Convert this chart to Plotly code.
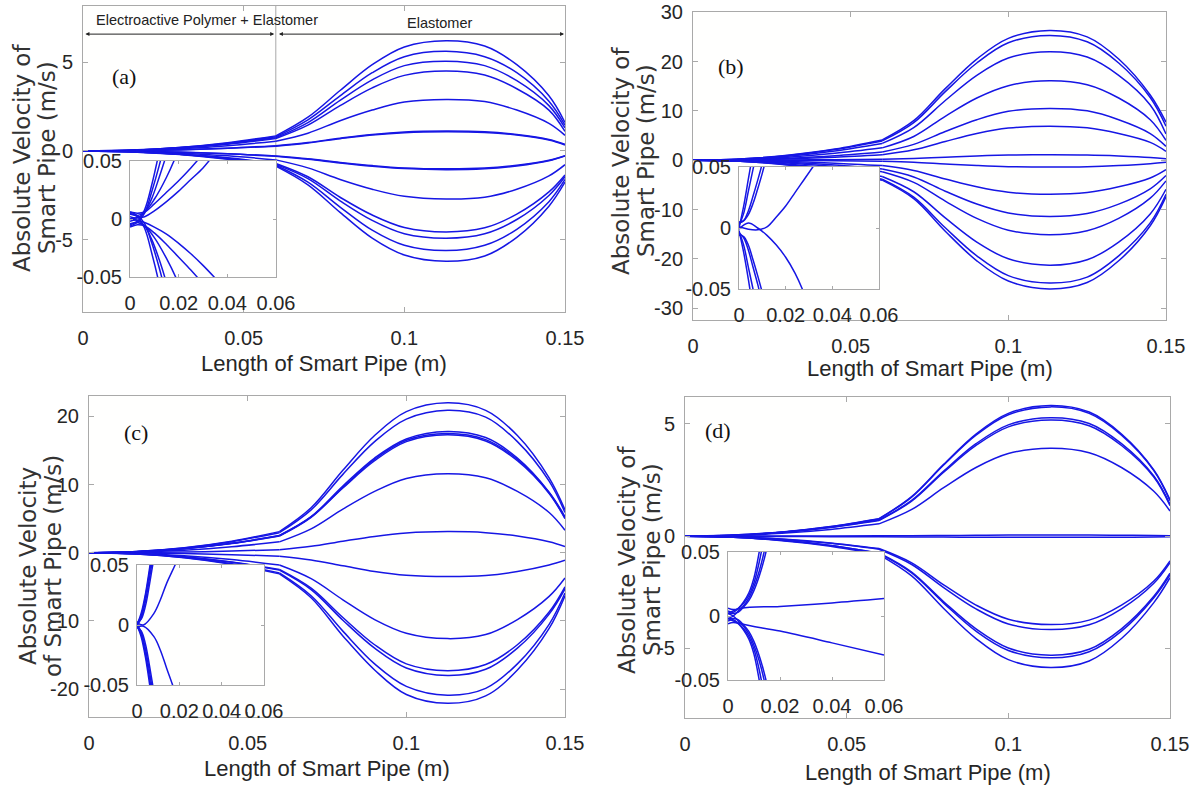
import plotly.graph_objects as go

W, H = 1198, 789

# ---------------- data ----------------
X_EAP = [0, 0.015, 0.03, 0.045, 0.06]
X_ELA = [0.06, 0.07, 0.08, 0.09, 0.10, 0.113, 0.125, 0.135, 0.145, 0.15]
X_TICKS = [0, 0.05, 0.1, 0.15]
X_TICK_TEXT = ["0", "0.05", "0.1", "0.15"]
IN_X_TICKS = [0, 0.02, 0.04, 0.06]
IN_X_TICK_TEXT = ["0", "0.02", "0.04", "0.06"]
IN_Y_TICKS = [-0.05, 0, 0.05]
IN_Y_TICK_TEXT = ["-0.05", "0", "0.05"]
A_Y_TICKS, A_Y_TEXT = [-5, 0, 5], ["-5", "0", "5"]
B_Y_TICKS, B_Y_TEXT = [-30, -20, -10, 0, 10, 20, 30], ["-30", "-20", "-10", "0", "10", "20", "30"]
C_Y_TICKS, C_Y_TEXT = [-20, -10, 0, 10, 20], ["-20", "-10", "0", "10", "20"]
D_Y_TICKS, D_Y_TEXT = [-5, 0, 5], ["-5", "0", "5"]

# panel (a)
A_EAP = [
    [0, 0.05, 0.20, 0.47, 0.85], [0, 0.05, 0.19, 0.44, 0.80], [0, 0.04, 0.18, 0.41, 0.75],
    [0, 0.04, 0.17, 0.38, 0.70], [0, 0.03, 0.13, 0.30, 0.55], [0, 0.02, 0.07, 0.16, 0.30],
    [0, 0.02, 0.06, 0.15, 0.27], [0, -0.02, -0.06, -0.15, -0.28], [0, -0.02, -0.07, -0.16, -0.30],
    [0, -0.03, -0.12, -0.27, -0.50], [0, -0.04, -0.17, -0.38, -0.70], [0, -0.04, -0.18, -0.41, -0.75],
    [0, -0.05, -0.19, -0.44, -0.80], [0, -0.05, -0.20, -0.47, -0.85],
]
A_ELA = [
    [0.85, 1.9, 3.4, 4.85, 5.85, 6.2, 5.9, 4.85, 3.1, 1.6],
    [0.80, 1.75, 3.1, 4.4, 5.3, 5.6, 5.3, 4.4, 2.8, 1.45],
    [0.75, 1.6, 2.85, 4.0, 4.8, 5.05, 4.8, 3.95, 2.55, 1.3],
    [0.70, 1.45, 2.55, 3.55, 4.25, 4.5, 4.27, 3.5, 2.3, 1.1],
    [0.55, 1.0, 1.7, 2.3, 2.75, 2.9, 2.78, 2.3, 1.55, 0.88],
    [0.30, 0.48, 0.72, 0.93, 1.07, 1.12, 1.08, 0.93, 0.65, 0.37],
    [0.27, 0.45, 0.69, 0.90, 1.03, 1.08, 1.04, 0.90, 0.62, 0.34],
    [-0.28, -0.44, -0.64, -0.82, -0.95, -1.0, -0.96, -0.8, -0.52, -0.26],
    [-0.30, -0.47, -0.68, -0.86, -0.99, -1.05, -1.0, -0.84, -0.55, -0.28],
    [-0.50, -0.95, -1.6, -2.15, -2.55, -2.7, -2.6, -2.15, -1.4, -0.77],
    [-0.70, -1.45, -2.6, -3.6, -4.3, -4.55, -4.32, -3.55, -2.3, -1.35],
    [-0.75, -1.55, -2.8, -3.9, -4.65, -4.9, -4.65, -3.85, -2.5, -1.45],
    [-0.80, -1.75, -3.15, -4.45, -5.3, -5.6, -5.3, -4.4, -2.85, -1.6],
    [-0.85, -1.9, -3.45, -4.9, -5.85, -6.2, -5.9, -4.85, -3.1, -1.75],
]
A_IN_X1 = [0, 0.003, 0.006, 0.009, 0.012, 0.016]
A_IN_Y1 = [
    [-0.004, -0.002, 0.008, 0.030, 0.058, 0.10],
    [-0.006, -0.003, 0.005, 0.024, 0.046, 0.08],
    [0.002, 0.001, 0.006, 0.018, 0.036, 0.062],
    [0.004, 0.002, -0.008, -0.030, -0.056, -0.10],
    [0.006, 0.003, -0.004, -0.021, -0.042, -0.075],
    [-0.002, -0.001, -0.006, -0.018, -0.035, -0.062],
]
A_IN_X2 = [0, 0.003, 0.006, 0.01, 0.015, 0.02, 0.025, 0.03, 0.035]
A_IN_Y2 = [
    [0.005, 0.003, 0.006, 0.017, 0.036, 0.060, 0.090, 0.120, 0.150],
    [0.006, 0.005, 0.006, 0.013, 0.023, 0.033, 0.044, 0.056, 0.068],
    [0.0, 0.001, 0.002, 0.007, 0.015, 0.024, 0.034, 0.044, 0.057],
    [-0.005, -0.003, -0.006, -0.016, -0.034, -0.056, -0.085, -0.115, -0.150],
    [-0.007, -0.005, -0.006, -0.012, -0.022, -0.033, -0.044, -0.056, -0.070],
    [0.0, -0.001, -0.003, -0.007, -0.013, -0.021, -0.030, -0.040, -0.051],
]

# panel (b)
B_EAP = [
    [0, 0.25, 1.0, 2.25, 4.1], [0, 0.23, 0.94, 2.15, 3.9], [0, 0.2, 0.82, 1.87, 3.4],
    [0, 0.15, 0.6, 1.38, 2.5], [0, 0.1, 0.4, 0.9, 1.65], [0, 0.07, 0.26, 0.6, 1.1],
    [0, 0.01, 0.04, 0.09, 0.17], [0, -0.01, -0.05, -0.12, -0.22], [0, -0.07, -0.26, -0.6, -1.1],
    [0, -0.11, -0.43, -0.99, -1.8], [0, -0.14, -0.56, -1.29, -2.35], [0, -0.2, -0.79, -1.82, -3.3],
    [0, -0.23, -0.92, -2.12, -3.85], [0, -0.24, -0.97, -2.23, -4.05],
]
B_ELA = [
    [4.1, 8.0, 14.5, 20.5, 24.7, 26.3, 25.0, 20.5, 13.2, 7.7],
    [3.9, 7.6, 13.9, 19.7, 23.8, 25.3, 24.0, 19.7, 12.7, 6.9],
    [3.4, 6.6, 12.1, 17.2, 20.7, 22.0, 20.9, 17.2, 11.2, 5.3],
    [2.5, 4.8, 8.9, 12.6, 15.1, 16.1, 15.3, 12.6, 8.2, 4.0],
    [1.65, 3.2, 5.8, 8.2, 9.9, 10.5, 10.0, 8.2, 5.4, 2.8],
    [1.1, 2.1, 3.8, 5.4, 6.5, 6.9, 6.55, 5.4, 3.6, 1.8],
    [0.17, 0.35, 0.6, 0.86, 1.03, 1.1, 1.05, 0.86, 0.56, 0.3],
    [-0.22, -0.42, -0.77, -1.09, -1.32, -1.4, -1.33, -1.09, -0.7, -0.4],
    [-1.1, -2.1, -3.8, -5.4, -6.5, -6.9, -6.55, -5.4, -3.6, -1.9],
    [-1.8, -3.4, -6.3, -8.9, -10.7, -11.4, -10.8, -8.9, -5.8, -3.1],
    [-2.35, -4.5, -8.3, -11.8, -14.2, -15.1, -14.3, -11.8, -7.7, -4.2],
    [-3.3, -6.4, -11.7, -16.6, -20.0, -21.3, -20.2, -16.6, -10.9, -5.9],
    [-3.85, -7.5, -13.7, -19.4, -23.4, -24.9, -23.7, -19.4, -12.7, -6.9],
    [-4.05, -7.8, -14.4, -20.4, -24.5, -26.1, -24.8, -20.4, -13.3, -7.4],
]
B_IN_X1 = [0, 0.002, 0.004, 0.006, 0.008, 0.01, 0.012]
B_IN_Y1 = [
    [0.0, 0.018, 0.040, 0.062, 0.085, 0.110, 0.130],
    [0.002, 0.012, 0.030, 0.048, 0.066, 0.085, 0.100],
    [0.004, 0.006, 0.014, 0.026, 0.039, 0.053, 0.068],
    [0.005, 0.006, 0.011, 0.020, 0.032, 0.045, 0.060],
    [-0.002, -0.020, -0.042, -0.066, -0.090, -0.110, -0.130],
    [-0.003, -0.014, -0.032, -0.050, -0.068, -0.087, -0.105],
    [-0.004, -0.008, -0.018, -0.032, -0.046, -0.062, -0.078],
    [-0.006, -0.007, -0.014, -0.026, -0.039, -0.053, -0.068],
]
B_IN_X2 = [0, 0.004, 0.008, 0.012, 0.016, 0.02, 0.024, 0.028, 0.032]
B_IN_Y2 = [
    [0.001, -0.001, -0.0015, 0.001, 0.009, 0.018, 0.029, 0.040, 0.051],
    [-0.001, 0.004, 0.0, -0.006, -0.014, -0.024, -0.037, -0.054, -0.075],
]

# panel (c)
C_EAP = [
    [0, 0.19, 0.74, 1.7, 3.1], [0, 0.18, 0.71, 1.62, 2.95], [0, 0.15, 0.61, 1.4, 2.55],
    [0, 0.15, 0.6, 1.38, 2.5], [0, 0.15, 0.59, 1.35, 2.45], [0, 0.1, 0.38, 0.88, 1.6],
    [0, 0.03, 0.11, 0.25, 0.45], [0, -0.03, -0.12, -0.28, -0.5], [0, -0.11, -0.43, -0.99, -1.8],
    [0, -0.15, -0.59, -1.35, -2.45], [0, -0.15, -0.61, -1.4, -2.55], [0, -0.18, -0.71, -1.62, -2.95],
    [0, -0.19, -0.74, -1.7, -3.1],
]
C_ELA = [
    [3.1, 6.6, 12.1, 17.2, 20.7, 22.0, 20.9, 17.2, 11.0, 6.3],
    [2.95, 6.3, 11.5, 16.3, 19.6, 20.9, 19.9, 16.3, 10.5, 5.9],
    [2.55, 5.3, 9.8, 13.9, 16.7, 17.8, 16.9, 13.9, 8.9, 5.3],
    [2.5, 5.25, 9.6, 13.7, 16.5, 17.5, 16.6, 13.7, 8.8, 5.1],
    [2.45, 5.2, 9.5, 13.5, 16.3, 17.3, 16.4, 13.5, 8.7, 5.0],
    [1.6, 3.5, 6.4, 9.0, 10.9, 11.6, 11.0, 9.0, 5.9, 3.3],
    [0.45, 0.95, 1.7, 2.4, 2.9, 3.1, 2.95, 2.45, 1.6, 0.9],
    [-0.5, -1.05, -1.9, -2.75, -3.3, -3.5, -3.33, -2.75, -1.8, -1.1],
    [-1.8, -3.8, -6.9, -9.8, -11.8, -12.6, -12.0, -9.8, -6.4, -3.7],
    [-2.45, -5.2, -9.5, -13.5, -16.3, -17.3, -16.4, -13.5, -8.7, -5.0],
    [-2.55, -5.4, -9.9, -14.0, -16.9, -18.0, -17.1, -14.0, -9.0, -5.3],
    [-2.95, -6.3, -11.5, -16.3, -19.6, -20.9, -19.9, -16.3, -10.5, -5.9],
    [-3.1, -6.6, -12.2, -17.2, -20.8, -22.1, -21.0, -17.2, -11.1, -6.3],
]
C_IN_X1 = [0, 0.002, 0.004, 0.006, 0.008, 0.01]
C_IN_Y1 = [
    [0.0, 0.010, 0.026, 0.048, 0.072, 0.100],
    [0.001, 0.008, 0.024, 0.045, 0.068, 0.094],
    [-0.001, 0.006, 0.020, 0.040, 0.062, 0.086],
    [0.002, 0.005, 0.016, 0.035, 0.056, 0.079],
    [0.0, -0.010, -0.027, -0.050, -0.075, -0.100],
    [-0.001, -0.008, -0.024, -0.045, -0.068, -0.094],
    [0.001, -0.006, -0.020, -0.040, -0.062, -0.086],
    [-0.002, -0.005, -0.016, -0.035, -0.056, -0.079],
]
C_IN_X2 = [0, 0.003, 0.008, 0.011, 0.014, 0.018, 0.022]
C_IN_Y2 = [
    [0.002, 0.0, 0.0097, 0.0208, 0.0347, 0.050, 0.066],
    [-0.002, -0.001, -0.0097, -0.0208, -0.036, -0.056, -0.078],
]

# panel (d)
D_EAP = [
    [0, 0.05, 0.19, 0.43, 0.78], [0, 0.05, 0.18, 0.42, 0.77], [0, 0.04, 0.17, 0.40, 0.72],
    [0, 0.04, 0.17, 0.39, 0.70], [0, 0.03, 0.13, 0.30, 0.55], [0, 0.004, 0.006, 0.010, 0.014],
    [0, -0.006, -0.012, -0.021, -0.030], [0, -0.03, -0.13, -0.30, -0.55], [0, -0.03, -0.14, -0.32, -0.58],
    [0, -0.05, -0.18, -0.41, -0.75], [0, -0.05, -0.18, -0.42, -0.77], [0, -0.05, -0.20, -0.45, -0.82],
]
D_ELA = [
    [0.78, 1.75, 3.2, 4.55, 5.47, 5.82, 5.53, 4.55, 2.95, 1.62],
    [0.77, 1.73, 3.17, 4.5, 5.41, 5.76, 5.47, 4.5, 2.92, 1.58],
    [0.72, 1.58, 2.9, 4.12, 4.96, 5.28, 5.02, 4.12, 2.68, 1.42],
    [0.70, 1.55, 2.85, 4.04, 4.87, 5.18, 4.92, 4.04, 2.63, 1.36],
    [0.55, 1.18, 2.16, 3.06, 3.68, 3.92, 3.72, 3.06, 2.0, 1.12],
    [0.014, 0.02, 0.03, 0.04, 0.047, 0.05, 0.048, 0.04, 0.03, 0.02],
    [-0.03, -0.035, -0.04, -0.045, -0.049, -0.05, -0.049, -0.045, -0.038, -0.03],
    [-0.55, -1.18, -2.17, -3.07, -3.7, -3.94, -3.74, -3.07, -2.0, -1.1],
    [-0.58, -1.25, -2.29, -3.24, -3.91, -4.16, -3.95, -3.24, -2.1, -1.18],
    [-0.75, -1.59, -2.92, -4.13, -4.98, -5.3, -5.04, -4.13, -2.68, -1.65],
    [-0.77, -1.63, -2.98, -4.23, -5.09, -5.42, -5.15, -4.23, -2.74, -1.72],
    [-0.82, -1.76, -3.22, -4.56, -5.5, -5.85, -5.56, -4.56, -2.96, -1.85],
]
D_IN_X1 = [0, 0.002, 0.004, 0.006, 0.008, 0.01, 0.012, 0.014, 0.016, 0.018]
D_IN_Y1 = [
    [0.004, 0.003, 0.006, 0.011, 0.018, 0.030, 0.050, 0.075, 0.100, 0.130],
    [0.006, 0.005, 0.006, 0.010, 0.016, 0.026, 0.042, 0.063, 0.088, 0.115],
    [-0.002, 0.0, 0.004, 0.008, 0.014, 0.023, 0.035, 0.051, 0.072, 0.096],
    [0.002, 0.002, 0.003, 0.007, 0.012, 0.020, 0.031, 0.045, 0.063, 0.085],
    [-0.004, -0.003, -0.006, -0.011, -0.018, -0.030, -0.050, -0.075, -0.100, -0.130],
    [-0.006, -0.005, -0.006, -0.010, -0.016, -0.026, -0.042, -0.063, -0.088, -0.115],
    [0.002, 0.0, -0.004, -0.008, -0.014, -0.023, -0.035, -0.051, -0.072, -0.096],
    [-0.002, -0.002, -0.003, -0.007, -0.012, -0.020, -0.031, -0.045, -0.063, -0.085],
]
D_IN_X2 = [0, 0.005, 0.02, 0.04, 0.06]
D_IN_Y2 = [
    [0.002, 0.006, 0.0075, 0.0102, 0.0136],
    [-0.002, -0.006, -0.0118, -0.021, -0.0305],
]

# ---------------- styling / layout ----------------
BLUE = "rgb(22,22,228)"
FRAME = "#a9a9a9"
SANS = "Liberation Sans, Arial, sans-serif"
TICKFONT = dict(family=SANS, size=20, color="#262626")

PANELS = [
    dict(eap=A_EAP, ela=A_ELA, inset=[(A_IN_X1, A_IN_Y1), (A_IN_X2, A_IN_Y2)],
         px=(83, 565), py=(6, 312), yr=[-9.05, 8.15], yt=A_Y_TICKS, ytt=A_Y_TEXT,
         ipx=(130, 276), ipy=(161, 277), label="(a)", lab=(110, 62),
         ytitle=["Absolute Velocity of", "Smart Pipe (m/s)"], ytx=(22, 47), yty=158, xty=363),
    dict(eap=B_EAP, ela=B_ELA, inset=[(B_IN_X1, B_IN_Y1), (B_IN_X2, B_IN_Y2)],
         px=(693, 1166), py=(11.7, 320), yr=[-32.4, 30.1], yt=B_Y_TICKS, ytt=B_Y_TEXT,
         ipx=(739, 879), ipy=(167, 289), label="(b)", lab=(731, 52),
         ytitle=["Absolute Velocity of", "Smart Pipe (m/s)"], ytx=(621, 646), yty=161, xty=368),
    dict(eap=C_EAP, ela=C_ELA, inset=[(C_IN_X1, C_IN_Y1), (C_IN_X2, C_IN_Y2)],
         px=(89, 565), py=(396, 717), yr=[-24.1, 23.0], yt=C_Y_TICKS, ytt=C_Y_TEXT,
         ipx=(137, 264), ipy=(565, 685), label="(c)", lab=(122, 432),
         ytitle=["Absolute Velocity", "of Smart Pipe (m/s)"], ytx=(28, 53), yty=566, xty=768),
    dict(eap=D_EAP, ela=D_ELA, inset=[(D_IN_X1, D_IN_Y1), (D_IN_X2, D_IN_Y2)],
         px=(685, 1170), py=(397, 718), yr=[-8.1, 6.2], yt=D_Y_TICKS, ytt=D_Y_TEXT,
         ipx=(728, 884), ipy=(552, 680), label="(d)", lab=(718, 430),
         ytitle=["Absolute Velocity of", "Smart Pipe (m/s)"], ytx=(627, 652), yty=560, xty=772),
]


def fx(px):
    return min(1.0, max(0.0, px / W))


def fy(py):
    return min(1.0, max(0.0, 1 - py / H))


def dx(p):
    return [fx(p[0]), fx(p[1])]


def dy(p):
    return [fy(p[1]), fy(p[0])]


fig = go.Figure()
layout = dict(
    width=W, height=H, margin=dict(l=0, r=0, t=0, b=0, pad=0), autosize=False,
    paper_bgcolor="white", plot_bgcolor="#fffffe", showlegend=False,
)
annotations = []
shapes = []

axis_common = dict(showline=True, linecolor=FRAME, linewidth=1, mirror="ticks",
                   ticks="inside", tickcolor=FRAME, showgrid=False, zeroline=False,
                   tickfont=TICKFONT, fixedrange=True, automargin=False, tickangle=0,
                   ticklabeloverflow="allow")

line_style = dict(color=BLUE, width=1.5, shape="spline", smoothing=1.0)

for i, p in enumerate(PANELS):
    mi = i + 1          # main axes index
    ii = i + 5          # inset axes index
    mx, my = f"x{mi}", f"y{mi}"
    ix, iy = f"x{ii}", f"y{ii}"
    for e, l in zip(p["eap"], p["ela"]):
        fig.add_trace(go.Scatter(x=X_EAP + [None] + X_ELA, y=e + [None] + l, mode="lines",
                                 line=line_style, connectgaps=False, xaxis=mx, yaxis=my,
                                 hoverinfo="skip"))
    for xs, ys_list in p["inset"]:
        for ys in ys_list:
            fig.add_trace(go.Scatter(x=xs, y=ys, mode="lines", line=line_style,
                                     xaxis=ix, yaxis=iy, hoverinfo="skip"))
    sfx = "" if mi == 1 else str(mi)
    layout[f"xaxis{sfx}"] = dict(axis_common, domain=dx(p["px"]), range=[0, 0.15], anchor=my,
                                 tickvals=X_TICKS, ticktext=X_TICK_TEXT, ticklen=5,
                                 ticklabelstandoff=8)
    layout[f"yaxis{sfx}"] = dict(axis_common, domain=dy(p["py"]), range=p["yr"], anchor=mx,
                                 tickvals=p["yt"], ticktext=p["ytt"], ticklen=5,
                                 ticklabelstandoff=5)
    layout[f"xaxis{ii}"] = dict(axis_common, domain=dx(p["ipx"]), range=[0, 0.06], anchor=iy,
                                tickvals=IN_X_TICKS, ticktext=IN_X_TICK_TEXT, ticklen=3,
                                ticklabelstandoff=8)
    layout[f"yaxis{ii}"] = dict(axis_common, domain=dy(p["ipy"]), range=[-0.05, 0.05], anchor=ix,
                                tickvals=IN_Y_TICKS, ticktext=IN_Y_TICK_TEXT, ticklen=3,
                                ticklabelstandoff=3)
    # panel label
    annotations.append(dict(text=p["label"], x=fx(p["lab"][0]), y=fy(p["lab"][1]),
                            xref="paper", yref="paper", showarrow=False,
                            font=dict(family="Liberation Serif, Times New Roman, serif", size=22,
                                      color="#111")))
    # y title (two lines)
    for txt, xp in zip(p["ytitle"], p["ytx"]):
        annotations.append(dict(text=txt, x=fx(xp), y=fy(p["yty"]), xref="paper",
                                yref="paper", showarrow=False, textangle=-90,
                                xanchor="center", yanchor="middle",
                                font=dict(family="DejaVu Sans, sans-serif", size=23,
                                          color="#333")))
    # x title
    annotations.append(dict(text="Length of Smart Pipe (m)", x=fx((p["px"][0] + p["px"][1]) / 2),
                            y=fy(p["xty"]), xref="paper", yref="paper", showarrow=False,
                            xanchor="center", yanchor="middle",
                            font=dict(family=SANS, size=22, color="#262626")))

# region labels and arrows in panel (a)
ARROW_Y = 6.57
annotations += [
    dict(text="Electroactive Polymer + Elastomer", x=0.0385, y=7.35, xref="x", yref="y",
         showarrow=False, font=dict(family=SANS, size=14.5, color="#222")),
    dict(text="Elastomer", x=0.111, y=7.2, xref="x", yref="y", showarrow=False,
         font=dict(family=SANS, size=14.5, color="#222")),
    dict(text="", x=0.0595, y=ARROW_Y, ax=0.0003, ay=ARROW_Y, xref="x", yref="y", axref="x",
         ayref="y", showarrow=True, arrowhead=2, startarrowhead=2, arrowside="end+start",
         arrowsize=0.8, startarrowsize=0.8, arrowwidth=1, arrowcolor="#222"),
    dict(text="", x=0.1497, y=ARROW_Y, ax=0.0605, ay=ARROW_Y, xref="x", yref="y", axref="x",
         ayref="y", showarrow=True, arrowhead=2, startarrowhead=2, arrowside="end+start",
         arrowsize=0.8, startarrowsize=0.8, arrowwidth=1, arrowcolor="#222"),
]
# material boundary line in panel (a)
shapes.append(dict(type="line", xref="x", yref="y", x0=0.06, x1=0.06, y0=-0.56, y1=8.15,
                   line=dict(color=FRAME, width=1), layer="below"))

layout["annotations"] = annotations
layout["shapes"] = shapes
fig.update_layout(**layout)
# remove the default page margin so the figure sits at the window corner; hide the modebar
fig.write_html("out.html", config={"displayModeBar": False},
               post_script="document.body.style.margin='0px';")
